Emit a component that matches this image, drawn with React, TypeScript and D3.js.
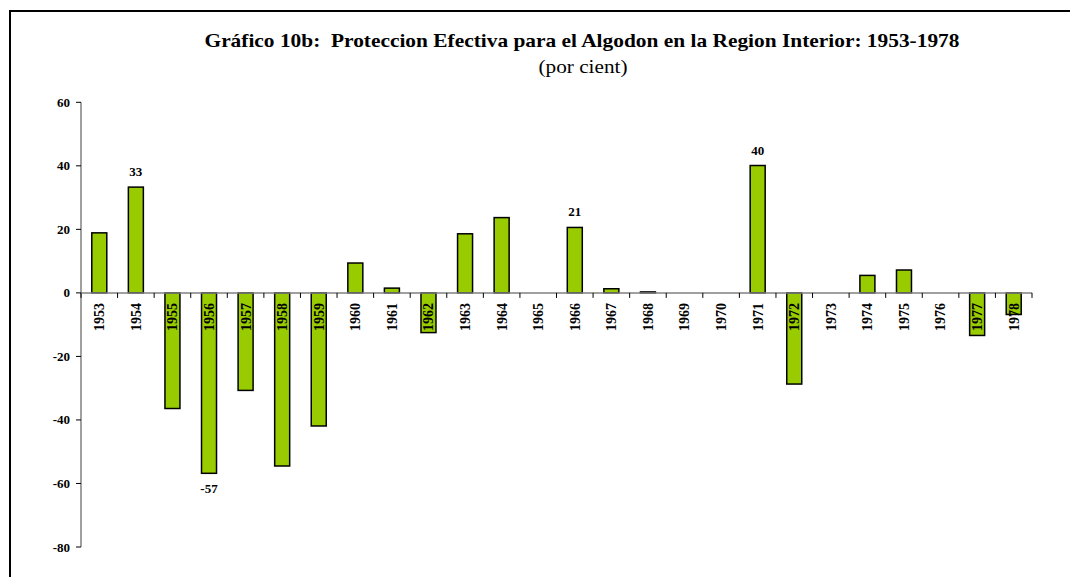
import React from "react";
import * as d3 from "d3";

const years: string[] = [
  "1953", "1954", "1955", "1956", "1957", "1958", "1959", "1960", "1961",
  "1962", "1963", "1964", "1965", "1966", "1967", "1968", "1969", "1970",
  "1971", "1972", "1973", "1974", "1975", "1976", "1977", "1978",
];
const values: number[] = [
  18.9, 33.3, -36.4, -56.8, -30.7, -54.5, -41.9, 9.4, 1.5,
  -12.5, 18.6, 23.7, 0, 20.6, 1.3, 0.3, 0, 0,
  40.1, -28.7, 0, 5.5, 7.2, 0, -13.4, -6.8,
];
const labeledYears: string[] = ["1954", "1956", "1966", "1971"];
const labelTexts: string[] = ["33", "-57", "21", "40"];
const yTicks: number[] = [-80, -60, -40, -20, 0, 20, 40, 60];

const W = 1070;
const H = 577;
const FONT = "'Liberation Serif', 'Times New Roman', serif";

export default function App() {
  const x = d3.scaleBand<string>().domain(years).range([81, 1032]).paddingInner(0.59).paddingOuter(0.295);
  const xb = d3.scaleBand<string>().domain(years).range([81, 1032]);
  const y = d3.scaleLinear().domain([-80, 60]).range([547, 102.3]);
  const y0 = y(0);

  return (
    <svg width={W} height={H} style={{ position: "absolute", left: 0, top: 0, background: "#fff" }}>
      <rect x={0} y={0} width={W} height={H} fill="#fff" />
      {/* frame */}
      <path d={`M10,${H + 5} L10,11 L${W + 5},11`} fill="none" stroke="#000" strokeWidth={2} />

      {/* title */}
      <text x={582} y={47} textAnchor="middle" fontFamily={FONT} fontWeight="bold" fontSize={19}
        textLength={755} lengthAdjust="spacingAndGlyphs" style={{ whiteSpace: "pre" }}>
        {"Gráfico 10b:  Proteccion Efectiva para el Algodon en la Region Interior: 1953-1978"}
      </text>
      <text x={583} y={73} textAnchor="middle" fontFamily={FONT} fontSize={18}
        textLength={89} lengthAdjust="spacingAndGlyphs">
        (por cient)
      </text>

      {/* bars */}
      {years.map((yr, i) => {
        const v = values[i];
        if (v === 0) return null;
        const top = y(Math.max(0, v));
        const bot = y(Math.min(0, v));
        return (
          <rect key={yr} x={x(yr)} y={top} width={x.bandwidth()} height={Math.max(0.8, bot - top)}
            fill="#99cc00" stroke="#000" strokeWidth={1.5} />
        );
      })}

      {/* y axis */}
      <line x1={81} x2={81} y1={y(60)} y2={y(-80)} stroke="#808080" strokeWidth={1.5} />
      {yTicks.map((t) => (
        <g key={t}>
          <line x1={76} x2={81} y1={y(t)} y2={y(t)} stroke="#000" strokeWidth={1} />
          <text x={70} y={y(t)} dy="0.35em" textAnchor="end" fontFamily={FONT} fontWeight="bold" fontSize={13}>
            {t}
          </text>
        </g>
      ))}

      {/* x axis */}
      <line x1={81} x2={1032} y1={y0} y2={y0} stroke="#808080" strokeWidth={1.5} />
      {[...years.map((yr) => xb(yr) as number), 1032].map((p, i) => (
        <line key={i} x1={p} x2={p} y1={y0} y2={y0 + 5} stroke="#000" strokeWidth={1} />
      ))}
      {years.map((yr) => {
        const cx = (xb(yr) as number) + xb.bandwidth() / 2;
        return (
          <text key={yr} transform={`translate(${cx},${y0 + 10}) rotate(-90)`} dy="0.35em" textAnchor="end"
            fontFamily={FONT} fontWeight="bold" fontSize={14}>
            {yr}
          </text>
        );
      })}

      {/* data labels */}
      {labeledYears.map((yr, i) => {
        const v = values[years.indexOf(yr)];
        const cx = (x(yr) as number) + x.bandwidth() / 2;
        const ly = v >= 0 ? y(v) - 11 : y(v) + 20;
        return (
          <text key={yr} x={cx} y={ly} textAnchor="middle" fontFamily={FONT} fontWeight="bold" fontSize={13}>
            {labelTexts[i]}
          </text>
        );
      })}
    </svg>
  );
}
